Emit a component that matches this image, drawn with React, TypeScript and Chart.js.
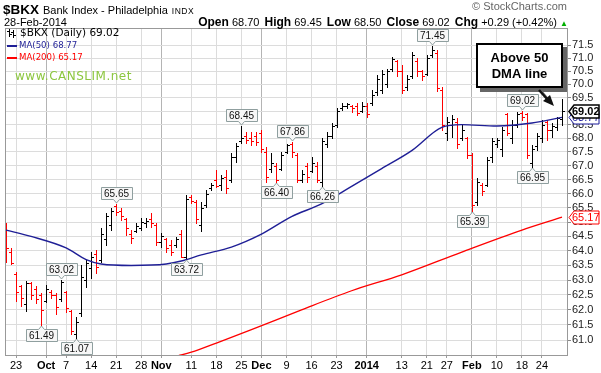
import React, { useEffect, useRef } from 'react';
import { Chart, registerables } from 'chart.js';
Chart.register(...registerables);

// ---- Data (bar index 0 = 19-Sep-2013 ... 111 = 28-Feb-2014) ----
const opens = [
  64.9, 63.95, 63.2, 62.8, 62.2, 62.9, 62.7, 62.5, 62.3, 62.6,
  62.5, 62.35, 62.6, 61.95, 61.2, 61.9, 63.0, 63.4, 63.9, 63.7,
  64.4, 64.9, 65.55, 65.4, 65.1, 64.6, 64.7, 64.8, 64.95, 65.1,
  64.9, 64.3, 64.4, 64.2, 64.2, 64.6, 63.8, 65.9, 65.7, 64.9,
  65.6, 66.2, 66.5, 66.3, 66.6, 66.5, 67.3, 67.9, 68.1, 68.0,
  68.1, 68.2, 67.5, 66.9, 67.0, 66.9, 67.5, 67.8, 67.4, 66.5,
  67.0, 66.8, 67.0, 66.4, 67.8, 68.1, 68.5, 69.1, 69.2, 69.2,
  69.2, 69.0, 69.2, 69.3, 69.7, 69.8, 70.0, 70.6, 70.9, 70.5,
  69.9, 70.3, 70.9, 70.5, 70.4, 71.1, 71.2, 69.8, 68.2, 68.5,
  68.6, 68.0, 68.0, 67.4, 65.7, 66.3, 66.3, 67.3, 67.8, 67.6,
  68.9, 68.0, 68.5, 68.95, 68.9, 67.1, 67.7, 68.0, 68.6, 68.3,
  68.4, 68.7,
];
const highs = [
  64.96, 64.10, 63.29, 62.85, 62.98, 62.95, 62.80, 62.56, 62.85, 62.68,
  62.56, 63.02, 62.62, 62.00, 61.75, 63.52, 63.69, 63.97, 64.03, 64.79,
  65.31, 65.50, 65.65, 65.48, 65.14, 64.72, 64.96, 65.14, 65.14, 65.31,
  64.96, 64.62, 64.44, 64.37, 64.48, 64.72, 65.95, 65.95, 65.77, 65.70,
  66.14, 66.39, 66.86, 66.68, 66.86, 67.47, 67.83, 68.45, 68.24, 68.24,
  68.24, 68.31, 67.69, 67.47, 67.11, 67.51, 67.80, 67.86, 67.47, 66.86,
  67.11, 67.33, 67.15, 68.00, 68.24, 68.56, 69.12, 69.31, 69.31, 69.23,
  69.31, 69.35, 69.31, 69.79, 70.36, 70.55, 70.60, 71.04, 70.93, 70.74,
  70.36, 71.23, 71.00, 70.55, 71.12, 71.45, 71.30, 69.90, 68.80, 68.86,
  68.75, 68.49, 68.06, 67.47, 66.57, 66.39, 67.33, 68.00, 68.00, 68.42,
  68.95, 68.68, 68.98, 69.02, 68.95, 67.76, 68.20, 68.68, 68.68, 68.56,
  68.80, 69.45,
];
const lows = [
  63.62, 63.55, 62.30, 62.12, 61.95, 62.35, 62.24, 61.49, 62.25, 62.40,
  61.85, 62.30, 61.92, 61.20, 61.07, 61.79, 62.78, 63.07, 63.25, 63.62,
  64.20, 64.72, 65.25, 65.07, 64.55, 64.27, 64.65, 64.72, 64.83, 64.83,
  64.20, 64.13, 63.96, 63.86, 64.13, 63.78, 63.72, 65.67, 64.96, 64.69,
  65.53, 66.14, 66.25, 66.14, 66.03, 66.43, 67.15, 67.83, 67.83, 67.76,
  67.76, 67.50, 66.43, 66.79, 66.40, 66.86, 67.47, 67.33, 66.43, 66.43,
  66.43, 66.79, 66.42, 66.26, 67.69, 68.00, 68.42, 69.05, 69.12, 68.98,
  68.86, 68.98, 68.80, 69.23, 69.60, 69.68, 69.90, 70.50, 70.30, 69.68,
  69.80, 70.23, 70.30, 70.17, 70.36, 71.05, 69.75, 68.31, 67.94, 68.06,
  67.65, 67.94, 67.29, 65.39, 65.60, 65.95, 66.28, 67.15, 67.69, 67.36,
  68.13, 67.83, 68.42, 68.68, 67.29, 66.95, 67.58, 67.87, 67.94, 68.06,
  68.31, 68.50,
];
const closes = [
  64.1, 63.6, 62.6, 62.4, 62.9, 62.5, 62.35, 62.0, 62.7, 62.5,
  62.1, 62.95, 62.05, 61.3, 61.6, 63.1, 63.6, 63.8, 63.45, 64.6,
  65.2, 65.4, 65.35, 65.2, 64.8, 64.45, 64.85, 65.0, 65.05, 64.95,
  64.3, 64.5, 64.1, 63.95, 64.4, 63.8, 65.8, 65.75, 65.1, 65.5,
  66.0, 66.3, 66.28, 66.55, 66.2, 67.3, 67.7, 68.0, 67.95, 67.9,
  67.85, 67.6, 66.6, 67.1, 66.5, 67.4, 67.75, 67.5, 66.5, 66.7,
  66.6, 67.1, 66.5, 67.9, 68.1, 68.45, 69.0, 69.2, 69.25, 69.1,
  68.95, 69.2, 68.9, 69.6, 70.2, 70.4, 70.5, 70.95, 70.5, 69.8,
  70.2, 71.1, 70.5, 70.3, 71.0, 71.3, 69.85, 68.5, 68.6, 68.7,
  67.8, 68.3, 67.4, 65.6, 66.4, 66.1, 67.2, 67.9, 67.95, 68.3,
  68.2, 68.5, 68.9, 68.8, 67.4, 67.6, 68.1, 68.5, 68.3, 68.45,
  68.73, 69.02,
];

// Moving averages (bar index, value)
const ma50Idx = [0, 5, 12, 16, 19, 25, 32, 35, 39, 45, 51, 57, 63, 69, 75, 81, 87, 91, 98, 105, 111];
const ma50Val = [64.72, 64.5, 64.1, 63.7, 63.55, 63.5, 63.55, 63.65, 63.86, 64.13, 64.58, 65.19, 65.64, 66.26, 66.9, 67.55, 68.4, 68.5, 68.45, 68.56, 68.77];
const ma200Idx = [34, 37, 42, 49, 59, 69, 79, 91, 103, 111];
const ma200Val = [60.47, 60.6, 60.9, 61.34, 62.0, 62.64, 63.18, 63.96, 64.72, 65.17];

// Axis ticks
const xTickIdx = [2, 8, 12, 17, 22, 27, 31, 37, 42, 47, 51, 56, 61, 66, 72, 79, 84, 88, 93, 98, 103, 107];
const xTickLabels = ['23', 'Oct', '7', '14', '21', '28', 'Nov', '11', '18', '25', 'Dec', '9', '16', '23', '2014', '13', '21', '27', 'Feb', '10', '18', '24'];
const xMajor = ['Oct', 'Nov', 'Dec', '2014', 'Feb'];
const yTicks = [61.0, 61.5, 62.0, 62.5, 63.0, 63.5, 64.0, 64.5, 65.0, 65.5, 66.0, 66.5, 67.0, 67.5, 68.0, 68.5, 69.0, 69.5, 70.0, 70.5, 71.0, 71.5];

// Price annotations: bar index and whether it marks the high or the low
const noteIdx = [85, 103, 47, 57, 22, 11, 7, 14, 36, 54, 63, 93, 105];
const noteKind = ['H', 'H', 'H', 'H', 'H', 'H', 'L', 'L', 'L', 'L', 'L', 'L', 'L'];

const FONT = '"Liberation Sans", Arial, sans-serif';

const ohlcPlugin = {
  id: 'ohlc',
  beforeDatasetsDraw(chart: any) {
    const { ctx, chartArea, scales } = chart;
    const x = scales.x, y = scales.y;
    ctx.save();
    ctx.beginPath();
    ctx.rect(chartArea.left, chartArea.top, chartArea.right - chartArea.left, chartArea.bottom - chartArea.top);
    ctx.clip();
    for (let i = 0; i < closes.length; i++) {
      const up = i > 0 && closes[i] >= closes[i - 1];
      ctx.fillStyle = up ? '#000000' : '#ff0000';
      const X = Math.round(x.getPixelForValue(i));
      const yh = Math.round(y.getPixelForValue(highs[i]));
      const yl = Math.round(y.getPixelForValue(lows[i]));
      const yo = Math.round(y.getPixelForValue(opens[i]));
      const yc = Math.round(y.getPixelForValue(closes[i]));
      ctx.fillRect(X, yh, 1, Math.max(1, yl - yh + 1));
      ctx.fillRect(X - 2, yo, 2, 1);
      ctx.fillRect(X + 1, yc, 2, 1);
    }
    ctx.restore();
  },
};

function drawTag(ctx: any, py: number, text: string, border: string, color: string, bold: boolean) {
  const tip = 569, l = 574, r = 599, h = 6.5;
  ctx.beginPath();
  ctx.moveTo(tip, py);
  ctx.lineTo(l, py - h);
  ctx.lineTo(r, py - h);
  ctx.lineTo(r, py + h);
  ctx.lineTo(l, py + h);
  ctx.closePath();
  ctx.fillStyle = '#ffffff';
  ctx.fill();
  ctx.strokeStyle = border;
  ctx.lineWidth = bold ? 1.5 : 1;
  ctx.stroke();
  ctx.fillStyle = color;
  ctx.font = (bold ? 'bold ' : '') + '11px ' + FONT;
  ctx.textAlign = 'left';
  ctx.textBaseline = 'middle';
  ctx.fillText(text, 572, py + 0.5);
}

const decorPlugin = {
  id: 'decor',
  afterDraw(chart: any) {
    const { ctx, chartArea, scales } = chart;
    const x = scales.x, y = scales.y;
    ctx.save();
    // frame
    ctx.strokeStyle = '#999999';
    ctx.lineWidth = 1;
    ctx.strokeRect(chartArea.left + 0.5, chartArea.top + 0.5, chartArea.right - chartArea.left - 1, chartArea.bottom - chartArea.top);

    // price notes
    ctx.font = '10px ' + FONT;
    ctx.textAlign = 'center';
    ctx.textBaseline = 'middle';
    for (let n = 0; n < noteIdx.length; n++) {
      const i = noteIdx[n];
      const isHigh = noteKind[n] === 'H';
      const v = isHigh ? highs[i] : lows[i];
      const cx = Math.round(x.getPixelForValue(i)) + 0.5;
      const py = Math.round(y.getPixelForValue(v));
      const text = v.toFixed(2);
      const w = Math.round(ctx.measureText(text).width) + 6;
      const hh = 12;
      const left = Math.round(cx - w / 2) + 0.5;
      let top: number;
      ctx.beginPath();
      if (isHigh) {
        const bottom = py - 4.5;
        top = bottom - hh;
        ctx.moveTo(left, top);
        ctx.lineTo(left + w, top);
        ctx.lineTo(left + w, bottom);
        ctx.lineTo(cx + 3, bottom);
        ctx.lineTo(cx, py - 1);
        ctx.lineTo(cx - 3, bottom);
        ctx.lineTo(left, bottom);
      } else {
        top = py + 4.5;
        const bottom = top + hh;
        ctx.moveTo(left, top);
        ctx.lineTo(cx - 3, top);
        ctx.lineTo(cx, py + 1);
        ctx.lineTo(cx + 3, top);
        ctx.lineTo(left + w, top);
        ctx.lineTo(left + w, bottom);
        ctx.lineTo(left, bottom);
      }
      ctx.closePath();
      ctx.fillStyle = '#f7f7f7';
      ctx.fill();
      ctx.strokeStyle = '#8f9f9f';
      ctx.lineWidth = 1;
      ctx.stroke();
      ctx.fillStyle = '#111111';
      ctx.fillText(text, cx, top + hh / 2 + 0.5);
    }

    // callout box "Above 50 DMA line"
    ctx.fillStyle = '#666666';
    ctx.fillRect(480, 47, 87, 45);
    ctx.fillStyle = '#ffffff';
    ctx.fillRect(476, 43, 87, 45);
    ctx.strokeStyle = '#000000';
    ctx.lineWidth = 2;
    ctx.strokeRect(477, 44, 85, 43);
    ctx.fillStyle = '#000000';
    ctx.font = 'bold 13px ' + FONT;
    ctx.textAlign = 'center';
    ctx.textBaseline = 'middle';
    ctx.fillText('Above 50', 519.5, 58);
    ctx.fillText('DMA line', 519.5, 74);
    // arrow
    ctx.strokeStyle = '#777777';
    ctx.lineWidth = 2.5;
    ctx.beginPath();
    ctx.moveTo(541, 91);
    ctx.lineTo(551, 103);
    ctx.stroke();
    ctx.strokeStyle = '#111111';
    ctx.beginPath();
    ctx.moveTo(539, 90);
    ctx.lineTo(548, 100);
    ctx.stroke();
    ctx.fillStyle = '#111111';
    ctx.beginPath();
    ctx.moveTo(554, 106);
    ctx.lineTo(543, 101);
    ctx.lineTo(550, 95);
    ctx.closePath();
    ctx.fill();

    // legend icon (small OHLC glyph)
    ctx.fillStyle = '#000000';
    ctx.fillRect(9, 29, 1, 8);
    ctx.fillRect(7, 31, 2, 1);
    ctx.fillRect(10, 34, 2, 1);
    ctx.fillRect(13, 30, 1, 8);
    ctx.fillRect(11, 32, 2, 1);
    ctx.fillRect(14, 35, 2, 1);

    // right axis value tags
    const last = closes.length - 1;
    drawTag(ctx, Math.round(y.getPixelForValue(ma50Val[ma50Val.length - 1])) + 0.5, ma50Val[ma50Val.length - 1].toFixed(2), '#1a1a9a', '#1a1a9a', false);
    drawTag(ctx, Math.round(y.getPixelForValue(ma200Val[ma200Val.length - 1])) + 0.5, ma200Val[ma200Val.length - 1].toFixed(2), '#ff0000', '#ff0000', false);
    drawTag(ctx, Math.round(y.getPixelForValue(closes[last])) + 0.5, closes[last].toFixed(2), '#000000', '#000000', true);
    ctx.restore();
  },
};

export default function App() {
  const ref = useRef<HTMLCanvasElement>(null);
  useEffect(() => {
    const canvas = ref.current;
    if (!canvas) return;
    const chart = new Chart(canvas, {
      type: 'line',
      data: {
        datasets: [
          {
            label: 'MA(50)',
            data: ma50Idx.map((v, i) => ({ x: v, y: ma50Val[i] })),
            borderColor: '#1f1f96',
            borderWidth: 1.4,
            pointRadius: 0,
            cubicInterpolationMode: 'monotone',
          },
          {
            label: 'MA(200)',
            data: ma200Idx.map((v, i) => ({ x: v, y: ma200Val[i] })),
            borderColor: '#ff0000',
            borderWidth: 1.3,
            pointRadius: 0,
            cubicInterpolationMode: 'monotone',
          },
        ],
      } as any,
      options: {
        responsive: false,
        animation: false,
        devicePixelRatio: 1,
        layout: { padding: { left: 5, top: 28, right: 0, bottom: 0 } },
        plugins: { legend: { display: false }, tooltip: { enabled: false } },
        scales: {
          x: {
            type: 'linear',
            min: -0.2,
            max: 112.2,
            afterBuildTicks: (s: any) => { s.ticks = xTickIdx.map((v) => ({ value: v })); },
            afterFit: (s: any) => { s.height = 18; },
            ticks: {
              autoSkip: false,
              maxRotation: 0,
              padding: 1,
              color: '#000000',
              callback: (_v: any, i: number) => xTickLabels[i],
              font: (c: any) => ({ family: FONT, size: 11, weight: xMajor.includes(xTickLabels[c.index]) ? 'bold' : 'normal' }),
            },
            grid: {
              color: (c: any) => (c.tick && xMajor.includes(xTickLabels[c.index]) ? '#b4b4b4' : '#dcdcdc'),
              tickLength: 3,
              tickColor: '#999999',
            },
            border: { display: false },
          },
          y: {
            type: 'logarithmic',
            position: 'right',
            min: 60.51,
            max: 72.16,
            afterBuildTicks: (s: any) => { s.ticks = yTicks.map((v) => ({ value: v })); },
            afterFit: (s: any) => { s.width = 33; },
            ticks: {
              autoSkip: false,
              padding: 1,
              color: '#222222',
              font: { family: FONT, size: 11 },
              callback: (v: any) => Number(v).toFixed(1),
            },
            grid: { color: '#dcdcdc', tickLength: 3, tickColor: '#888888' },
            border: { display: false },
          },
        },
      } as any,
      plugins: [ohlcPlugin, decorPlugin],
    });
    return () => chart.destroy();
  }, []);

  const lab = { fontWeight: 'bold' as const, fontSize: 12 };
  return (
    <div style={{ position: 'absolute', left: 0, top: 0, width: 601, height: 373, background: '#ffffff', overflow: 'hidden', fontFamily: FONT }}>
      <canvas ref={ref} width={601} height={373} style={{ position: 'absolute', left: 0, top: 0 }} />
      <div style={{ position: 'absolute', left: 3, top: 0, whiteSpace: 'nowrap', color: '#000' }}>
        <span style={{ fontWeight: 'bold', fontSize: 13.5 }}>$BKX</span>
        <span style={{ fontSize: 11, marginLeft: 4 }}>Bank Index - Philadelphia</span>
        <span style={{ fontSize: 8.5, marginLeft: 4, letterSpacing: 0.5 }}>INDX</span>
      </div>
      <div style={{ position: 'absolute', right: 34, top: 0, fontSize: 11, color: '#666', whiteSpace: 'nowrap' }}>© StockCharts.com</div>
      <div style={{ position: 'absolute', left: 4, top: 16, fontSize: 11, whiteSpace: 'nowrap' }}>28-Feb-2014</div>
      <div style={{ position: 'absolute', right: 33, top: 15, fontSize: 11, whiteSpace: 'nowrap' }}>
        <span style={lab}>Open</span> 68.70 <span style={{ ...lab, marginLeft: 2 }}>High</span> 69.45 <span style={{ ...lab, marginLeft: 2 }}>Low</span> 68.50 <span style={{ ...lab, marginLeft: 2 }}>Close</span> 69.02 <span style={{ ...lab, marginLeft: 2 }}>Chg</span> +0.29 (+0.42%) <span style={{ color: '#00b000', fontSize: 8 }}>▲</span>
      </div>
      <div style={{ position: 'absolute', left: 20, top: 26, fontFamily: '"DejaVu Sans", Verdana, sans-serif', fontSize: 10.5, whiteSpace: 'nowrap', color: '#000' }}>$BKX (Daily) 69.02</div>
      <div style={{ position: 'absolute', left: 7, top: 45, width: 10, height: 2, background: '#1f1f96' }} />
      <div style={{ position: 'absolute', left: 19, top: 40, fontFamily: '"DejaVu Sans", Verdana, sans-serif', fontSize: 8.6, whiteSpace: 'nowrap', color: '#1f1f96' }}>MA(50) 68.77</div>
      <div style={{ position: 'absolute', left: 7, top: 57, width: 10, height: 2, background: '#ff0000' }} />
      <div style={{ position: 'absolute', left: 19, top: 52, fontFamily: '"DejaVu Sans", Verdana, sans-serif', fontSize: 8.6, whiteSpace: 'nowrap', color: '#ff0000' }}>MA(200) 65.17</div>
      <div style={{ position: 'absolute', left: 15, top: 69, fontFamily: '"DejaVu Sans", Verdana, sans-serif', fontSize: 12, letterSpacing: 0.5, whiteSpace: 'nowrap', color: '#8cc63f' }}>www.CANSLIM.net</div>
    </div>
  );
}
